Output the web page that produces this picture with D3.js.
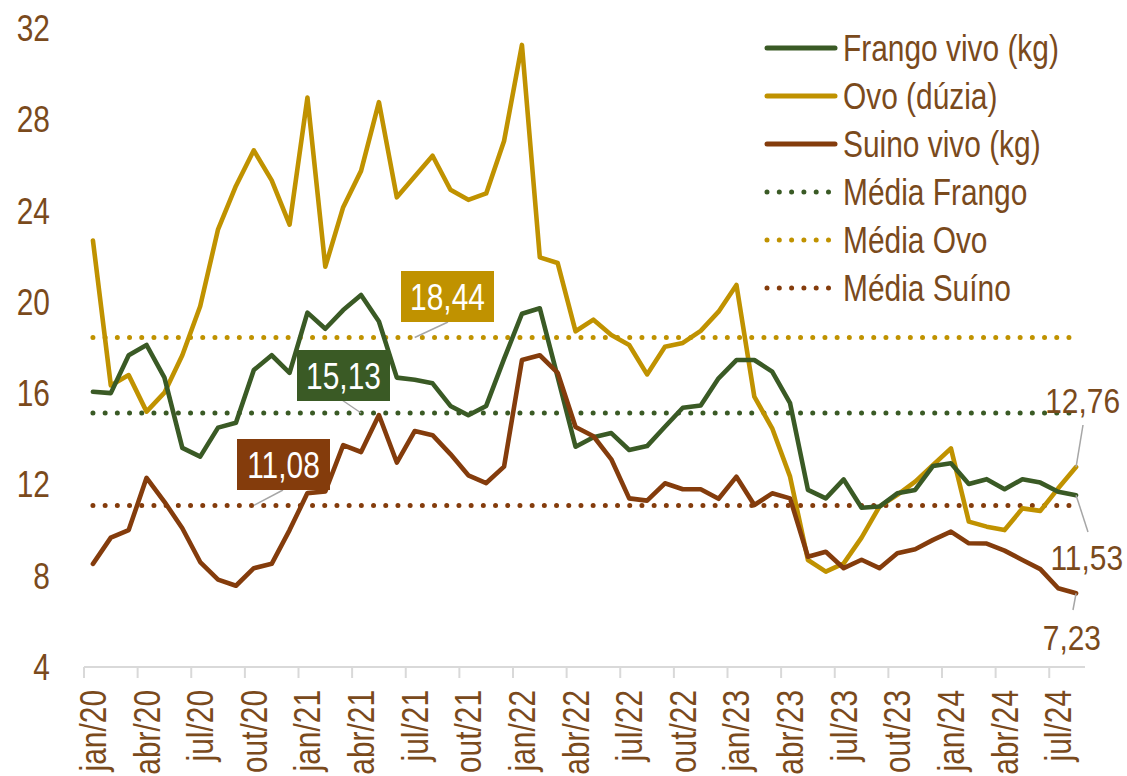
<!DOCTYPE html>
<html>
<head>
<meta charset="utf-8">
<script src="https://cdn.jsdelivr.net/npm/d3@7"></script>
<style>
  html, body { margin: 0; padding: 0; background: #fff; }
  svg text { font-family: "Liberation Sans", Arial, sans-serif; }
</style>
</head>
<body>
<div id="chart"></div>
<script>
// months jan/20 .. ago/24
const MONTHS_PT = ['jan', 'fev', 'mar', 'abr', 'mai', 'jun', 'jul', 'ago', 'set', 'out', 'nov', 'dez'];
const months = [];
for (let y = 20; y <= 24; y++) {
    for (let m = 0; m < 12; m++) {
        if (y === 24 && m > 7) break;
        months.push(`${MONTHS_PT[m]}/${y}`);
    }
}

const frango = [16.06, 16.0, 17.66, 18.11, 16.68, 13.60, 13.22, 14.49, 14.70, 17.01,
    17.66, 16.89, 19.53, 18.82, 19.64, 20.30, 19.14, 16.68, 16.59, 16.43,
    15.44, 15.03, 15.44, 17.50, 19.48, 19.72, 16.70, 13.65, 14.07, 14.25,
    13.51, 13.68, 14.53, 15.36, 15.46, 16.65, 17.45, 17.45, 16.94, 15.56,
    11.76, 11.39, 12.22, 10.98, 11.03, 11.61, 11.76, 12.81, 12.93, 12.02,
    12.23, 11.79, 12.23, 12.08, 11.68, 11.53];

const ovo = [22.69, 16.34, 16.79, 15.19, 16.02, 17.66, 19.81, 23.18, 25.08, 26.64,
    25.32, 23.38, 28.95, 21.54, 24.15, 25.74, 28.75, 24.58, 25.49, 26.40,
    24.91, 24.47, 24.75, 27.05, 31.26, 21.95, 21.70, 18.71, 19.22, 18.55,
    18.11, 16.82, 18.03, 18.20, 18.73, 19.57, 20.74, 15.85, 14.46, 12.34,
    8.69, 8.18, 8.54, 9.67, 11.03, 11.54, 12.12, 12.85, 13.58, 10.37,
    10.15, 10.00, 10.95, 10.84, 11.83, 12.76];

const suino = [8.52, 9.67, 10.0, 12.29, 11.24, 10.08, 8.60, 7.83, 7.56, 8.33,
    8.52, 10.0, 11.62, 11.69, 13.72, 13.42, 15.04, 12.96, 14.34, 14.16,
    13.33, 12.40, 12.06, 12.78, 17.45, 17.66, 16.89, 14.52, 14.11, 13.10,
    11.39, 11.29, 12.05, 11.79, 11.79, 11.37, 12.34, 11.10, 11.61, 11.39,
    8.83, 9.05, 8.33, 8.70, 8.33, 8.98, 9.16, 9.57, 9.93, 9.42,
    9.41, 9.10, 8.69, 8.29, 7.45, 7.23];

const medias = [15.13, 18.44, 11.08]; // Frango, Ovo, Suíno
const yTicks = [4, 8, 12, 16, 20, 24, 28, 32];

const seriesNames = ['Frango vivo (kg)', 'Ovo (dúzia)', 'Suino vivo (kg)'];
const mediaNames = ['Média Frango', 'Média Ovo', 'Média Suíno'];

const COLORS = ['#3a5a25', '#c09200', '#843c0c'];
const TEXT = '#7a4a1c';
const LEADER = '#a6a6a6';
const FS = '36px';
const NARROW = 0.83; // no narrow font installed, squeeze labels to Arial Narrow width

const W = 1127, H = 776;
const svg = d3.select('#chart').append('svg')
    .attr('width', W).attr('height', H);

const x = d3.scaleBand().domain(months).range([84, 1085]).padding(0);
const y = d3.scaleLinear().domain([4, 32]).range([667, 28]);
const cx = m => x(m) + x.bandwidth() / 2;
const fmt = v => d3.format('.2f')(v).replace('.', ',');

// y labels
svg.append('g').selectAll('text')
    .data(yTicks).join('text')
    .attr('x', 50).attr('y', d => y(d))
    .attr('dy', '0.36em')
    .attr('text-anchor', 'end')
    .style('font-size', FS)
    .style('fill', TEXT)
    .text(d => d);

// x axis: ticks on category boundaries, labels centred on the month
const tickMonths = months.filter((d, i) => i % 3 === 0);
const xAxis = svg.append('g')
    .attr('transform', `translate(0,${y(4)})`)
    .call(d3.axisBottom(x).tickValues(tickMonths).tickSize(11).tickPadding(0));
xAxis.select('.domain').attr('stroke', '#d9d9d9').attr('stroke-width', 2)
    .attr('d', 'M84,0H1085');
xAxis.selectAll('.tick line')
    .attr('stroke', '#d9d9d9').attr('stroke-width', 2)
    .attr('x1', -x.bandwidth() / 2).attr('x2', -x.bandwidth() / 2);
xAxis.selectAll('.tick text')
    .attr('transform', 'rotate(-90)')
    .attr('x', -23).attr('y', 0).attr('dy', '0.36em')
    .attr('text-anchor', 'end')
    .style('font-size', FS)
    .style('fill', TEXT);

// mean lines
const first = months[0], last = months[months.length - 1];
svg.append('g').selectAll('line')
    .data(medias).join('line')
    .attr('x1', cx(first)).attr('x2', cx(last))
    .attr('y1', d => y(d)).attr('y2', d => y(d))
    .attr('stroke', (d, i) => COLORS[i])
    .attr('stroke-width', 5)
    .attr('stroke-linecap', 'round')
    .attr('stroke-dasharray', '0 12.2');

// series lines
const line = d3.line().x((d, i) => cx(months[i])).y(d => y(d));
const allSeries = [frango, ovo, suino];
[1, 0, 2].forEach(k => {
    svg.append('path')
        .datum(allSeries[k])
        .attr('d', line)
        .attr('fill', 'none')
        .attr('stroke', COLORS[k])
        .attr('stroke-width', 4.6)
        .attr('stroke-linejoin', 'round')
        .attr('stroke-linecap', 'round');
});

// mean value boxes
const boxes = [
    { k: 0, bx: 297, by: 350, lx1: 342, ly1: 400, lx2: cx(months[15]) },
    { k: 1, bx: 401, by: 271, lx1: 448, ly1: 322, lx2: cx(months[18]) },
    { k: 2, bx: 237, by: 439, lx1: 283, ly1: 490, lx2: cx(months[9]) }
];
boxes.forEach(b => {
    svg.append('line')
        .attr('x1', b.lx1).attr('y1', b.ly1)
        .attr('x2', b.lx2).attr('y2', y(medias[b.k]))
        .attr('stroke', LEADER).attr('stroke-width', 1.5);
    svg.append('rect')
        .attr('x', b.bx).attr('y', b.by)
        .attr('width', 93).attr('height', 51)
        .attr('fill', COLORS[b.k]);
    svg.append('text')
        .attr('x', b.bx + 46.5).attr('y', b.by + 26)
        .attr('dy', '0.36em').attr('text-anchor', 'middle')
        .style('font-size', FS).style('fill', '#fff')
        .text(fmt(medias[b.k]));
});

// last value labels: squeezed with a transform so their box stays inside the page
const lastX = cx(last);
const ends = [
    { s: ovo, tx: 1120, ty: 400, lx: 1083, ly: 425 },
    { s: frango, tx: 1123, ty: 557, lx: 1088, ly: 532 },
    { s: suino, tx: 1101, ty: 637, lx: 1073, ly: 610 }
];
ends.forEach(e => {
    const v = e.s[e.s.length - 1];
    svg.append('line')
        .attr('x1', lastX).attr('y1', y(v))
        .attr('x2', e.lx).attr('y2', e.ly)
        .attr('stroke', LEADER).attr('stroke-width', 1.5);
    svg.append('text')
        .attr('class', 'scaled')
        .attr('transform', `translate(${e.tx},${e.ty}) scale(${NARROW},1)`)
        .attr('dy', '0.36em').attr('text-anchor', 'end')
        .style('font-size', FS).style('fill', TEXT)
        .text(fmt(v));
});

// legend
const legend = svg.append('g').attr('transform', 'translate(765,48)');
const items = seriesNames.map((n, i) => ({ n, i, dotted: false }))
    .concat(mediaNames.map((n, i) => ({ n, i, dotted: true })));
items.forEach((it, r) => {
    const row = legend.append('g').attr('transform', `translate(0,${r * 48})`);
    row.append('line')
        .attr('x1', 2).attr('x2', it.dotted ? 68 : 70).attr('y1', 0).attr('y2', 0)
        .attr('stroke', COLORS[it.i]).attr('stroke-width', 5)
        .attr('stroke-linecap', 'round')
        .attr('stroke-dasharray', it.dotted ? '0 12.3' : null);
    row.append('text')
        .attr('x', 78).attr('y', 0).attr('dy', '0.36em')
        .style('font-size', FS).style('fill', TEXT)
        .text(it.n);
});

// squeeze the remaining labels
svg.selectAll('text:not(.scaled)').each(function () {
    const w = this.getComputedTextLength();
    d3.select(this)
        .attr('textLength', w * NARROW)
        .attr('lengthAdjust', 'spacingAndGlyphs');
});
</script>
</body>
</html>
